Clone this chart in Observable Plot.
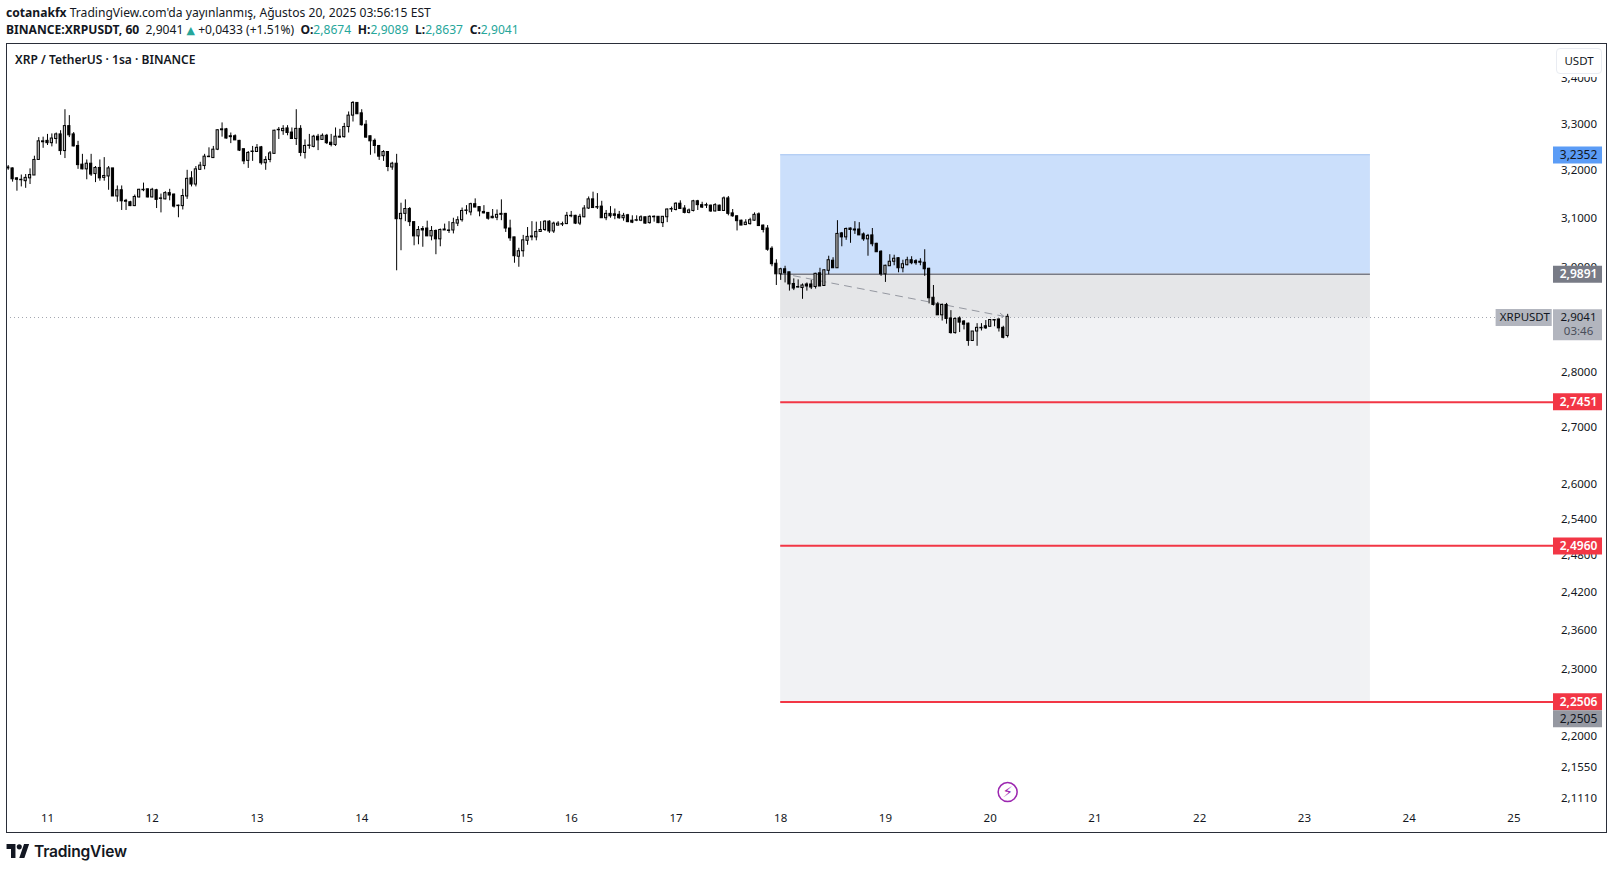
<!DOCTYPE html>
<html lang="tr">
<head>
<meta charset="utf-8">
<script src="https://cdn.jsdelivr.net/npm/d3@7"></script>
<script src="https://cdn.jsdelivr.net/npm/@observablehq/plot@0.6"></script>
<style>
  html, body { margin: 0; padding: 0; background: #fff; color: #131722; font-family: "Noto Sans", sans-serif; }
  body { width: 1613px; height: 869px; position: relative; overflow: hidden; }
  #head { height: 42px; box-sizing: border-box; padding: 5px 0 0 6px; font-size: 12.1px; line-height: 16.5px; white-space: nowrap; }
  #head b { font-weight: 700; }
  #head .up { color: #26a69a; }
  #head .tri { color: #26a69a; font-family: "DejaVu Sans", sans-serif; font-size: 11px; }
  #head .first { margin-left: 3px; }
  #head .item { margin-left: 3.5px; }
  #chart { position: absolute; left: 0; top: 42px; }
  #chart svg { display: block; }
  #symbol { position: absolute; left: 15px; top: 52px; font-size: 12.05px; font-weight: 600; line-height: 16px; white-space: nowrap; }
  #unit { position: absolute; left: 1556px; top: 48px; width: 46px; height: 26px; box-sizing: border-box; border: 1px solid #e9ecf2; border-radius: 4px; background: #fff; box-shadow: 0 3px 0 #fff; text-align: center; font-size: 11.5px; line-height: 24px; }
  #foot { position: absolute; left: 6px; top: 839px; display: flex; align-items: center; gap: 4px; height: 24px; }
  #foot span { font-family: Inter, sans-serif; font-size: 15.6px; font-weight: 600; color: #131722; letter-spacing: -0.2px; }
</style>
</head>
<body>
<div id="head">
  <div><b>cotanakfx</b> TradingView.com'da yayınlanmış, Ağustos 20, 2025 03:56:15 EST</div>
  <div><b>BINANCE:XRPUSDT, 60</b>&nbsp; 2,9041 <span class="tri">▲</span> +0,0433 (+1.51%) <b class="first">O:</b><span class="up">2,8674</span> <b class="item">H:</b><span class="up">2,9089</span> <b class="item">L:</b><span class="up">2,8637</span> <b class="item">C:</b><span class="up">2,9041</span></div>
</div>
<div id="chart"></div>
<div id="symbol">XRP / TetherUS · 1sa · BINANCE</div>
<div id="unit">USDT</div>
<div id="foot">
  <svg width="24" height="14" viewBox="0 0 36 22" fill="#131722"><path d="M14 22H7V8H0V0h14v22zM28 22h-8l7.5-22h8L28 22z"/><circle cx="20" cy="4.5" r="4"/></svg>
  <span>TradingView</span>
</div>
<script>
const firstBar = -9;      // hours-before-day-11 index of the first visible candle
const opens = [
3.204,3.204,3.183,3.179,3.177,3.183,3.189,3.222,3.260,
3.263,3.258,3.267,3.277,3.241,3.295,3.277,3.252,3.212,3.202,
3.214,3.192,3.205,3.184,3.187,3.204,3.145,3.158,3.134,3.133,
3.125,3.143,3.158,3.160,3.143,3.158,3.140,3.139,3.152,3.149,
3.125,3.125,3.145,3.183,3.170,3.201,3.209,3.228,3.226,3.244,
3.286,3.288,3.273,3.273,3.263,3.245,3.220,3.239,3.239,3.249,
3.215,3.222,3.235,3.286,3.284,3.290,3.281,3.267,3.289,3.237,
3.252,3.250,3.272,3.265,3.274,3.259,3.254,3.270,3.271,3.293,
3.318,3.346,3.323,3.298,3.273,3.263,3.252,3.230,3.239,3.206,
3.214,3.098,3.109,3.119,3.092,3.063,3.078,3.079,3.063,3.074,
3.057,3.075,3.075,3.075,3.089,3.096,3.115,3.112,3.129,3.123,
3.113,3.111,3.103,3.101,3.107,3.109,3.079,3.061,3.022,3.033,
3.054,3.061,3.061,3.072,3.076,3.093,3.073,3.085,3.087,3.088,
3.104,3.105,3.089,3.102,3.120,3.139,3.123,3.124,3.100,3.109,
3.108,3.107,3.100,3.106,3.095,3.095,3.095,3.102,3.090,3.102,
3.103,3.090,3.102,3.118,3.117,3.130,3.120,3.111,3.115,3.135,
3.127,3.127,3.126,3.114,3.126,3.115,3.141,3.110,3.104,3.095,
3.086,3.088,3.095,3.108,3.085,3.079,3.038,3.008,2.987,2.997,
2.991,2.968,2.962,2.960,2.967,2.967,2.962,2.989,2.964,2.994,
3.014,2.999,3.069,3.061,3.079,3.075,3.077,3.067,3.057,3.065,
3.048,3.032,2.987,3.003,3.012,3.019,2.999,3.005,3.015,3.013,
3.012,3.010,2.998,2.941,2.928,2.907,2.927,2.901,2.873,2.901,
2.895,2.891,2.858,2.876,2.882,2.886,2.885,2.898,2.899,2.883,2.8674];
const highs = [
3.210,3.205,3.184,3.190,3.191,3.203,3.230,3.270,3.271,
3.277,3.278,3.280,3.285,3.331,3.318,3.281,3.262,3.234,3.222,
3.234,3.208,3.222,3.227,3.208,3.204,3.167,3.167,3.139,3.135,
3.148,3.160,3.173,3.160,3.162,3.160,3.150,3.155,3.160,3.150,
3.127,3.160,3.200,3.197,3.208,3.217,3.234,3.248,3.251,3.287,
3.302,3.290,3.280,3.276,3.264,3.245,3.240,3.251,3.255,3.251,
3.229,3.240,3.286,3.292,3.296,3.296,3.291,3.331,3.296,3.265,
3.277,3.275,3.277,3.278,3.277,3.277,3.291,3.288,3.301,3.326,
3.349,3.346,3.331,3.307,3.273,3.267,3.253,3.242,3.240,3.217,
3.234,3.131,3.138,3.122,3.092,3.083,3.083,3.094,3.083,3.076,
3.078,3.088,3.093,3.100,3.103,3.121,3.126,3.131,3.140,3.124,
3.126,3.111,3.118,3.117,3.138,3.110,3.096,3.061,3.039,3.065,
3.081,3.093,3.092,3.093,3.095,3.095,3.092,3.093,3.092,3.112,
3.114,3.106,3.108,3.126,3.144,3.154,3.151,3.135,3.116,3.124,
3.119,3.114,3.110,3.108,3.105,3.105,3.105,3.102,3.105,3.105,
3.103,3.103,3.119,3.123,3.132,3.136,3.126,3.119,3.137,3.137,
3.133,3.131,3.127,3.130,3.127,3.144,3.145,3.118,3.105,3.096,
3.097,3.100,3.111,3.111,3.086,3.085,3.042,3.016,2.999,3.003,
2.991,2.978,2.976,2.968,2.970,2.975,2.989,2.999,2.996,3.023,
3.020,3.095,3.071,3.080,3.080,3.093,3.091,3.070,3.067,3.079,
3.049,3.034,3.005,3.026,3.025,3.020,3.015,3.021,3.022,3.016,
3.018,3.036,2.999,2.965,2.932,2.929,2.930,2.916,2.902,2.904,
2.897,2.892,2.876,2.891,2.891,2.897,2.899,2.899,2.900,2.886,2.9089];
const lows = [
3.200,3.175,3.156,3.165,3.162,3.170,3.189,3.222,3.247,
3.253,3.250,3.256,3.232,3.225,3.270,3.250,3.202,3.201,3.180,
3.187,3.174,3.177,3.177,3.158,3.145,3.133,3.116,3.116,3.124,
3.124,3.142,3.155,3.142,3.142,3.120,3.111,3.138,3.136,3.121,
3.101,3.117,3.139,3.165,3.165,3.200,3.201,3.227,3.225,3.242,
3.271,3.267,3.257,3.264,3.240,3.212,3.204,3.219,3.239,3.211,
3.200,3.216,3.235,3.266,3.275,3.274,3.266,3.253,3.229,3.224,
3.245,3.248,3.242,3.264,3.255,3.250,3.251,3.269,3.269,3.280,
3.304,3.321,3.295,3.269,3.232,3.235,3.221,3.219,3.197,3.200,
2.994,3.034,3.093,3.083,3.044,3.046,3.041,3.063,3.054,3.026,
3.042,3.075,3.069,3.068,3.083,3.092,3.107,3.105,3.122,3.103,
3.109,3.096,3.099,3.095,3.095,3.071,3.053,3.009,3.001,3.021,
3.045,3.054,3.054,3.071,3.073,3.069,3.069,3.084,3.083,3.087,
3.101,3.087,3.085,3.101,3.118,3.120,3.118,3.100,3.095,3.100,
3.097,3.098,3.094,3.091,3.089,3.093,3.093,3.088,3.088,3.092,
3.089,3.081,3.091,3.112,3.115,3.118,3.109,3.109,3.113,3.116,
3.120,3.120,3.112,3.113,3.115,3.114,3.105,3.102,3.074,3.085,
3.085,3.086,3.094,3.083,3.070,3.033,3.002,2.965,2.975,2.970,
2.954,2.955,2.960,2.938,2.954,2.957,2.958,2.963,2.963,2.986,
2.999,2.999,3.042,3.055,3.049,3.067,3.065,3.053,3.023,3.042,
3.031,2.983,2.971,3.003,3.004,2.990,2.990,3.004,3.006,3.005,
3.004,2.983,2.929,2.925,2.907,2.896,2.890,2.871,2.871,2.874,
2.879,2.848,2.857,2.848,2.877,2.880,2.885,2.885,2.875,2.862,2.8637];
const closes = [
3.206,3.181,3.180,3.180,3.184,3.190,3.222,3.262,3.262,
3.258,3.268,3.277,3.241,3.295,3.275,3.251,3.211,3.202,3.214,
3.191,3.205,3.183,3.188,3.204,3.145,3.158,3.135,3.136,3.125,
3.144,3.159,3.159,3.143,3.159,3.138,3.141,3.152,3.147,3.124,
3.126,3.146,3.182,3.170,3.202,3.210,3.229,3.229,3.244,3.286,
3.288,3.268,3.271,3.264,3.242,3.219,3.237,3.240,3.248,3.215,
3.222,3.236,3.285,3.287,3.289,3.280,3.267,3.289,3.237,3.252,
3.253,3.272,3.264,3.274,3.258,3.254,3.272,3.272,3.293,3.318,
3.346,3.321,3.297,3.270,3.262,3.252,3.229,3.239,3.207,3.214,
3.098,3.109,3.119,3.092,3.063,3.076,3.075,3.063,3.074,3.057,
3.076,3.077,3.074,3.090,3.096,3.115,3.116,3.129,3.122,3.114,
3.110,3.099,3.100,3.107,3.109,3.079,3.059,3.023,3.033,3.055,
3.062,3.063,3.072,3.076,3.093,3.073,3.089,3.089,3.088,3.105,
3.105,3.089,3.103,3.120,3.139,3.121,3.122,3.100,3.109,3.104,
3.105,3.100,3.105,3.092,3.091,3.096,3.102,3.089,3.103,3.103,
3.090,3.103,3.118,3.119,3.130,3.119,3.111,3.116,3.135,3.127,
3.122,3.126,3.114,3.127,3.115,3.141,3.109,3.104,3.094,3.085,
3.091,3.096,3.107,3.084,3.076,3.036,3.007,2.987,2.997,2.989,
2.967,2.959,2.961,2.965,2.963,2.961,2.988,2.963,2.995,3.015,
2.999,3.068,3.061,3.078,3.076,3.077,3.065,3.057,3.064,3.047,
3.031,2.987,3.004,3.012,3.018,2.999,3.007,3.015,3.009,3.009,
3.010,2.997,2.940,2.927,2.907,2.927,2.900,2.873,2.900,2.893,
2.889,2.858,2.876,2.883,2.883,2.882,2.898,2.897,2.882,2.864,2.9041];

const dayTicks = [11,12,13,14,15,16,17,18,19,20,21,22,23,24,25];
const priceTicks = [3.4,3.3,3.2,3.1,3.0,2.9,2.8,2.7,2.6,2.54,2.48,2.42,2.36,2.3,2.2,2.155,2.111];

const lastPrice = 2.9041;
const stopPrice = 3.2352, entryPrice = 2.9891;
const targets = [2.7451, 2.4960, 2.2506];
const projected = 2.2505;
const boxStart = 18, boxEnd = 23.63;
const tagLeft = 25.378, tagRight = 25.846;
const symbolTagLeft = 24.83;
const xStart = 10.6086;

const fmt = d => d.toFixed(4).replace(".", ",");
const candles = opens.map((o, i) => ({
  x: 11 + (firstBar + i) / 24, o, h: highs[i], l: lows[i], c: closes[i], up: closes[i] >= o
}));
const lastDay = candles[candles.length - 1].x;
const bodyHalf = 0.0105;

const tags = [
  {v: stopPrice, bg: "#5b9cf6", fg: "#131722", dy: 1.3, bold: 400},
  {v: entryPrice, bg: "#787b86", fg: "#ffffff", dy: 1, bold: 600},
  {v: targets[0], bg: "#f23645", fg: "#ffffff", dy: 0, bold: 600},
  {v: targets[1], bg: "#f23645", fg: "#ffffff", dy: 0.5, bold: 600},
  {v: targets[2], bg: "#f23645", fg: "#ffffff", dy: 0, bold: 600},
  {v: projected, bg: "#9598a1", fg: "#131722", dy: 17, bold: 400}
];
const tagCenter = (tagLeft + tagRight) / 2 + 0.005;
const tagMarks = tags.flatMap(t => [
  Plot.ruleY([t.v], {x1: tagLeft, x2: tagRight, stroke: t.bg, strokeWidth: 17, dy: t.dy}),
  Plot.text([t], {x: tagCenter, y: "v", text: d => fmt(d.v), fill: t.fg, fontWeight: t.bold, fontSize: 12, dy: t.dy})
]);

const chart = Plot.plot({
  width: 1613, height: 791,
  marginLeft: 6, marginRight: 7, marginTop: 1, marginBottom: 1,
  style: {fontFamily: '"Noto Sans", sans-serif', fontSize: "11.5px", color: "#131722", background: "transparent"},
  x: {type: "linear", domain: [xStart, 25.884]},
  y: {type: "log", domain: [2.064, 3.4803]},
  marks: [
    Plot.rect([0], {x1: boxStart, x2: boxEnd, y1: entryPrice, y2: stopPrice, fill: "#cbdffb", dy: 1}),
    Plot.rect([0], {x1: boxStart, x2: boxEnd, y1: targets[2], y2: entryPrice, fill: "#f1f2f4", dy: 1}),
    Plot.rect([0], {x1: boxStart, x2: boxEnd, y1: lastPrice, y2: entryPrice, fill: "#e5e6e8", dy: 1}),
    Plot.ruleY([stopPrice], {x1: boxStart, x2: boxEnd, stroke: "#a8c6f2", strokeWidth: 1, dy: 1}),
    Plot.ruleY([entryPrice], {x1: boxStart, x2: boxEnd, stroke: "#787b86", strokeWidth: 1.5, dy: 1}),
    Plot.ruleY(targets, {x1: boxStart, x2: tagLeft, stroke: "#f23645", strokeWidth: 2, dy: 0.3}),
    Plot.ruleY([lastPrice], {x1: xStart, x2: symbolTagLeft, stroke: "#a3a6af", strokeWidth: 1, strokeDasharray: "1,3", dy: 0.7}),
    Plot.arrow([0], {x1: boxStart, y1: entryPrice, x2: 20.13, y2: lastPrice + 0.001, stroke: "#9598a1", strokeWidth: 1, strokeDasharray: "7,6", headLength: 7, bend: 0}),
    Plot.ruleX(candles, {x: "x", y1: "l", y2: "h", stroke: "#000", strokeWidth: 1}),
    Plot.rect(candles, {
      x1: d => d.x - bodyHalf, x2: d => d.x + bodyHalf,
      y1: d => Math.min(d.o, d.c), y2: d => Math.max(d.o, d.c),
      fill: d => d.up ? "#c4c4c4" : "#000", stroke: "#000", strokeWidth: 1
    }),
    Plot.axisX(dayTicks, {anchor: "bottom", tickSize: 0, tickPadding: -19, label: null, tickFormat: d => String(d)}),
    Plot.axisY(priceTicks, {anchor: "right", tickSize: 0, tickPadding: -9.5, label: null, textAnchor: "end", tickFormat: fmt}),
    Plot.ruleY([lastPrice], {x1: symbolTagLeft, x2: tagLeft - 0.012, stroke: "#b2b5be", strokeWidth: 17, dy: 0.7}),
    Plot.text([lastPrice], {x: (symbolTagLeft + tagLeft) / 2, y: d => d, text: () => "XRPUSDT", fill: "#131722", dy: 0.7}),
    Plot.ruleY([lastPrice], {x1: tagLeft, x2: tagRight, stroke: "#b2b5be", strokeWidth: 31, dy: 8}),
    Plot.text([lastPrice], {x: tagCenter, y: d => d, text: d => fmt(d), fill: "#131722", fontSize: 11.5, dy: 0.7}),
    Plot.text([lastPrice], {x: tagCenter, y: d => d, text: () => "03:46", fill: "#4a4e5a", fontSize: 11.5, dy: 14.7}),
    ...tagMarks,
    Plot.dot([lastDay], {x: d => d, y: () => 2.12, r: 9.5, fill: "#fff", stroke: "#9c27b0", strokeWidth: 1.5}),
    Plot.text([lastDay], {x: d => d, y: () => 2.12, text: () => "⚡", fill: "#9c27b0", fontSize: 15, fontFamily: '"DejaVu Sans"'}),
    Plot.frame({stroke: "#2a2e39", strokeWidth: 1})
  ]
});
document.getElementById("chart").append(chart);
</script>
</body>
</html>
